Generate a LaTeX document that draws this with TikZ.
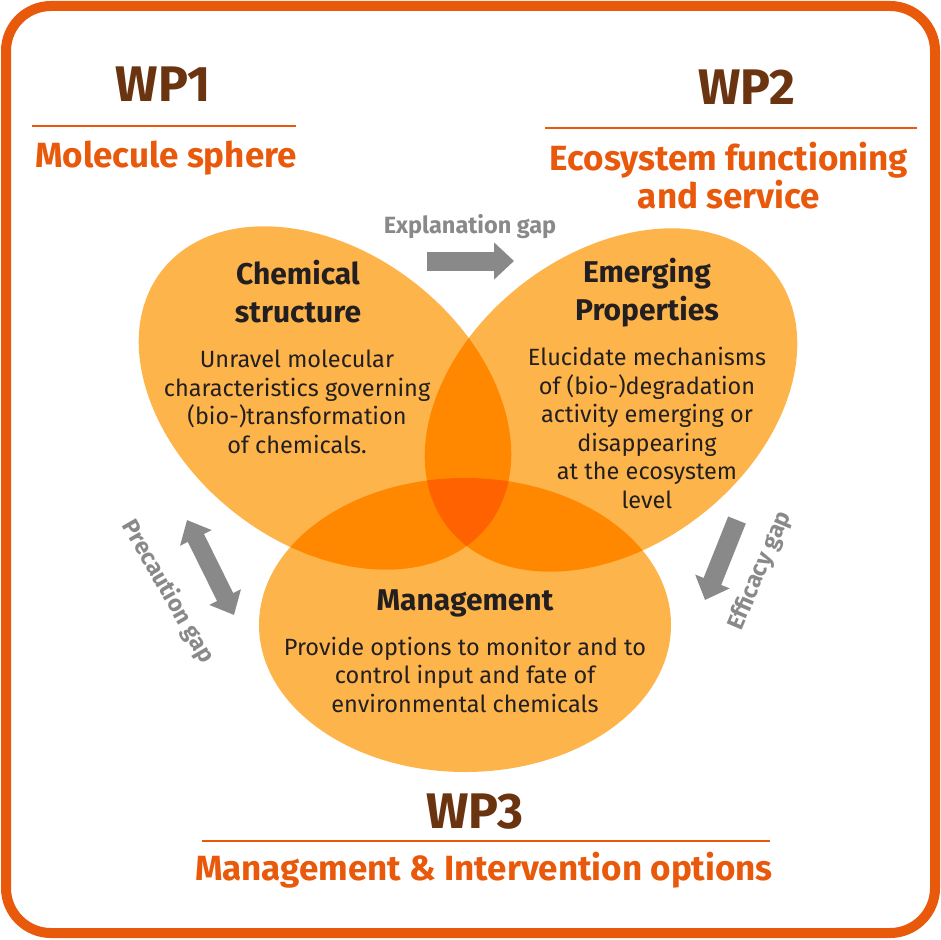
\documentclass[tikz,border=0pt]{standalone}
\usepackage{fontspec}
\setmainfont{Fira Sans}
\usetikzlibrary{arrows.meta}
\definecolor{wporange}{HTML}{E8590C}
\definecolor{wpbrown}{HTML}{6A3411}
\definecolor{petal}{HTML}{FDB54B}
\definecolor{petaltwo}{HTML}{FF8800}
\definecolor{petalthree}{HTML}{FF6200}
\definecolor{gapgray}{HTML}{898989}
\definecolor{inktext}{HTML}{231F20}
\newcommand{\petalchem}{(325,398) ellipse [x radius=207pt, y radius=146pt, rotate=-38]}
\newcommand{\petaleco}{(611,400) ellipse [x radius=207pt, y radius=146pt, rotate=38]}
\newcommand{\petalman}{(465,625) ellipse [x radius=206pt, y radius=147pt]}

\begin{document}
\begin{tikzpicture}
  [
    x                  = 1pt,
    y                  = -1pt,
    every node/.style  = {inner sep=0pt},
    wplabel/.style     = {anchor=base, text=wpbrown, font=\fontsize{50}{56}\selectfont\bfseries},
    wpsub/.style       = {anchor=base, align=center, text=wporange, font=\fontsize{35}{38}\selectfont\bfseries},
    wprule/.style      = {draw=wporange, line width=2pt},
    petaltitle/.style  = {anchor=base, align=center, text=inktext, font=\fontsize{30}{38}\selectfont\bfseries},
    petalbody/.style   = {anchor=base, align=center, text=inktext, font=\fontsize{23.5}{28.5}\selectfont},
    gaplabel/.style    = {text=gapgray, font=\fontsize{23.5}{26}\selectfont\bfseries},
    gaparrow/.style    = {draw=gapgray, line width=19pt, -{Triangle[width=36pt, length=20pt]}},
    gapboth/.style     = {draw=gapgray, line width=18pt, {Triangle[width=34pt, length=20pt]}-{Triangle[width=34pt, length=20pt]}}
  ]
  \useasboundingbox (0,0) rectangle (941,939);
  \draw[wporange, line width=10pt, rounded corners=45pt] (6,6) rectangle (935,933);

  \fill[petal] \petalchem;
  \fill[petal] \petaleco;
  \fill[petal] \petalman;
  \begin{scope}
    \clip \petalchem;
    \fill[petaltwo] \petaleco;
    \fill[petaltwo] \petalman;
  \end{scope}
  \begin{scope}
    \clip \petaleco;
    \fill[petaltwo] \petalman;
  \end{scope}
  \begin{scope}
    \clip \petalchem;
    \clip \petaleco;
    \fill[petalthree] \petalman;
  \end{scope}

  \node[wplabel] (wp1) at (163,102) {WP1};
  \node[wpsub] (wp1sub) at (166,167) {Molecule sphere};
  \coordinate (wp1rule-l) at (32,126);
  \coordinate (wp1rule-r) at (296,126);
  \draw[wprule] (wp1rule-l) -- (wp1rule-r);

  \node[wplabel] (wp2) at (747,105) {WP2};
  \node[wpsub] (wp2sub) at (729,208) {Ecosystem functioning\\and service};
  \coordinate (wp2rule-l) at (545,128);
  \coordinate (wp2rule-r) at (917,128);
  \draw[wprule] (wp2rule-l) -- (wp2rule-r);

  \node[wplabel] (wp3) at (475,828) {WP3};
  \node[wpsub] (wp3sub) at (484,880) {Management \& Intervention options};
  \coordinate (wp3rule-l) at (202,841);
  \coordinate (wp3rule-r) at (770,841);
  \draw[wprule] (wp3rule-l) -- (wp3rule-r);

  \node[petaltitle] (chem) at (298,322) {Chemical\\structure};
  \node[petalbody] (chembody) at (297,453) {Unravel molecular\\characteristics governing\\(bio-)transformation\\of chemicals.};
  \node[petaltitle] (eco) at (647,320) {Emerging\\Properties};
  \node[petalbody] (ecobody) at (647,508) {Elucidate mechanisms\\of (bio-)degradation\\activity emerging or\\disappearing\\at the ecosystem\\level};
  \node[petaltitle] (man) at (465,610) {Management};
  \node[petalbody] (manbody) at (465,712) {Provide options to monitor and to\\control input and fate of\\environmental chemicals};

  \node[gaplabel, anchor=base] (expl) at (470,233) {Explanation gap};
  \coordinate (expl-a) at (427,261);
  \coordinate (expl-b) at (514,261);
  \draw[gaparrow] (expl-a) -- (expl-b);

  \node[gaplabel, rotate=-60] (prec) at (168,592) {Precaution gap};
  \coordinate (prec-a) at (187,520);
  \coordinate (prec-b) at (234,615);
  \draw[gapboth] (prec-a) -- (prec-b);

  \node[gaplabel, rotate=67] (effi) at (760,571) {Efficacy gap};
  \coordinate (effi-a) at (737,520);
  \coordinate (effi-b) at (705,600);
  \draw[gaparrow] (effi-a) -- (effi-b);
\end{tikzpicture}
\end{document}
